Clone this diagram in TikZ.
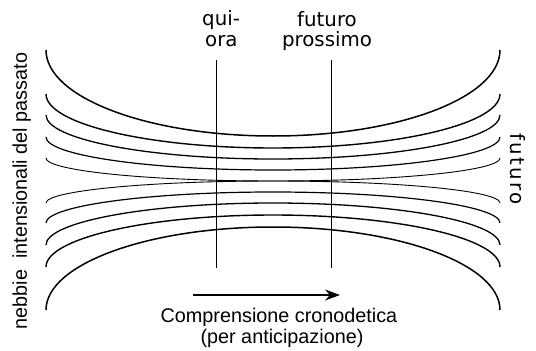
\documentclass[tikz,border=0pt]{standalone}
\usepackage{fontspec}
\setmainfont{Liberation Sans}
\newfontfamily\verafont{DejaVu Sans}
\newfontfamily\veraspaced[LetterSpace=12]{DejaVu Sans}
\usetikzlibrary{arrows.meta}

\begin{document}
\begin{tikzpicture}[x=1pt, y=1pt,
  nebbia/.style={line width=#1},
  linea/.style={line width=1.4pt},
  etichetta/.style={inner sep=0pt, anchor=base, font=\fontsize{19.8}{21}\selectfont}]

  \useasboundingbox (0,0) rectangle (536,-351);

  %upper curves:
  \draw[nebbia=1.5pt] (46,-50) arc[start angle=180, end angle=360, x radius=227, y radius=86];
  \draw[nebbia=1.4pt] (46,-94) arc[start angle=180, end angle=360, x radius=227, y radius=54];
  \draw[nebbia=1.3pt] (46,-115) arc[start angle=180, end angle=360, x radius=227, y radius=44];
  \draw[nebbia=1.2pt] (46,-137) arc[start angle=180, end angle=360, x radius=227, y radius=33];
  \draw[nebbia=0.9pt] (46,-158) arc[start angle=180, end angle=360, x radius=227, y radius=23];

  %lower curves:
  \draw[nebbia=0.9pt] (46,-203) arc[start angle=180, end angle=0, x radius=227, y radius=22];
  \draw[nebbia=1.2pt] (46,-223) arc[start angle=180, end angle=0, x radius=227, y radius=31];
  \draw[nebbia=1.3pt] (46,-245) arc[start angle=180, end angle=0, x radius=227, y radius=42];
  \draw[nebbia=1.4pt] (46,-267) arc[start angle=180, end angle=0, x radius=227, y radius=52];
  \draw[nebbia=1.5pt] (46,-310) arc[start angle=180, end angle=0, x radius=227, y radius=83];

  %qui-ora and futuro prossimo:
  \coordinate (quiTop) at (216.5,-60);
  \coordinate (quiBot) at (216.5,-268);
  \coordinate (futTop) at (331.5,-60);
  \coordinate (futBot) at (331.5,-268);
  \draw[linea] (quiTop) -- (quiBot);
  \draw[linea] (futTop) -- (futBot);

  \node[etichetta, anchor=base west] (qui) at (202,-25.5) {\verafont qui-};
  \node[etichetta, anchor=base west] (ora) at (205,-46) {\verafont ora};
  \node[etichetta] (futuro) at (327,-26) {\verafont futuro};
  \node[etichetta] (prossimo) at (327,-46.5) {\verafont prossimo};

  %arrow:
  \coordinate (arrStart) at (193,-295);
  \coordinate (arrEnd) at (340,-295);
  \draw[linea, -{Stealth[length=15pt, width=11pt, inset=5pt]}] (arrStart) -- (arrEnd);

  \node[etichetta] (compr) at (279,-322) {Comprensione cronodetica};
  \node[etichetta] (antic) at (282,-343) {(per anticipazione)};

  %sides:
  \node[etichetta, rotate=90] (passato) at (27,-191) {nebbie\ \ intensionali del passato};
  \node[etichetta, rotate=-90] (futdx) at (510,-169) {\veraspaced futuro};
\end{tikzpicture}
\end{document}
